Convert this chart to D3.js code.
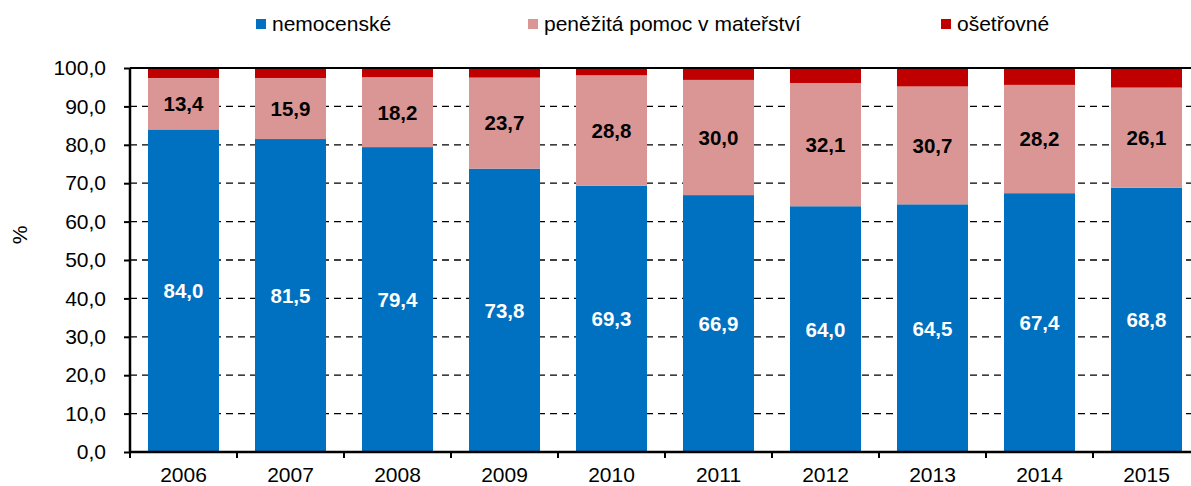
<!DOCTYPE html>
<meta charset="utf-8">
<style>
body { margin: 0; background: #fff; }
svg { font-family: "Liberation Sans", Arial, sans-serif; }
.tick text { font-size: 21px; fill: #000; }
.lbl { font-size: 20.5px; font-weight: bold; }
</style>
<body>
<script src="https://cdn.jsdelivr.net/npm/d3@7"></script>
<script>
// roky a podíly jednotlivých dávek (%)
var years = ["2006", "2007", "2008", "2009", "2010", "2011", "2012", "2013", "2014", "2015"];
var nemocenske = [84.0, 81.5, 79.4, 73.8, 69.3, 66.9, 64.0, 64.5, 67.4, 68.8];
var materstvi = [13.4, 15.9, 18.2, 23.7, 28.8, 30.0, 32.1, 30.7, 28.2, 26.1];
var osetrovne = [2.6, 2.6, 2.4, 2.5, 1.9, 3.1, 3.9, 4.8, 4.4, 5.1];
var seriesNames = ["nemocenské", "peněžitá pomoc v mateřství", "ošetřovné"];
var colors = ["#0070c0", "#da9694", "#c00000"];
var yTicks = [0, 10, 20, 30, 40, 50, 60, 70, 80, 90, 100];

var margin = {top: 68, left: 130},
    width = 1070,
    height = 384;

var table = years.map(function(y, i) {
  return {year: y, s0: nemocenske[i], s1: materstvi[i], s2: osetrovne[i]};
});

var stack = d3.stack().keys(["s0", "s1", "s2"])(table);

var svg = d3.select("body").append("svg")
    .attr("width", 1191)
    .attr("height", 486);

var g = svg.append("g")
    .attr("transform", "translate(" + margin.left + "," + margin.top + ")");

var x = d3.scaleBand().domain(years).range([0, width]).paddingInner(36 / 107).paddingOuter(18 / 107);
var y = d3.scaleLinear().domain([0, 100]).range([height, 0]);

// vodorovné mřížky
g.selectAll(".grid")
    .data(yTicks.filter(function(d) { return d > 0 && d < 100; }))
  .enter().append("line")
    .attr("x1", 0).attr("x2", width)
    .attr("y1", function(d) { return y(d); })
    .attr("y2", function(d) { return y(d); })
    .attr("stroke", "#000")
    .attr("stroke-width", 1.3)
    .attr("stroke-dasharray", "7,5");

// sloupce
var layer = g.selectAll(".layer")
    .data(stack)
  .enter().append("g")
    .attr("fill", function(d, i) { return colors[i]; });

layer.selectAll("rect")
    .data(function(d) { return d; })
  .enter().append("rect")
    .attr("x", function(d) { return x(d.data.year); })
    .attr("width", x.bandwidth())
    .attr("y", function(d) { return y(d[1]); })
    .attr("height", function(d) { return y(d[0]) - y(d[1]); });

// popisky hodnot
var fmt = function(v) { return d3.format(".1f")(v).replace(".", ","); };
[0, 1].forEach(function(k) {
  g.selectAll(".lbl" + k)
      .data(stack[k])
    .enter().append("text")
      .attr("class", "lbl")
      .attr("text-anchor", "middle")
      .attr("dy", "0.36em")
      .attr("fill", k === 0 ? "#fff" : "#000")
      .attr("x", function(d) { return x(d.data.year) + x.bandwidth() / 2; })
      .attr("y", function(d) { return y((d[0] + d[1]) / 2); })
      .text(function(d) { return fmt(d[1] - d[0]); });
});

// horní linka
g.append("line")
    .attr("x1", 0).attr("x2", width)
    .attr("y1", 0).attr("y2", 0)
    .attr("stroke", "#000").attr("stroke-width", 2);

// osy
var yAxis = g.append("g")
    .call(d3.axisLeft(y).tickValues(yTicks).tickSize(6).tickPadding(18).tickFormat(fmt));
yAxis.select(".domain").attr("stroke-width", 2.5).attr("d", "M0," + height + "V0");
yAxis.selectAll(".tick line").attr("stroke-width", 2);

var xAxis = g.append("g")
    .attr("transform", "translate(0," + height + ")")
    .call(d3.axisBottom(x).tickSize(0).tickPadding(15));
xAxis.select(".domain").attr("stroke-width", 2.5).attr("d", "M0,0H" + width);

// značky mezi kategoriemi
g.selectAll(".xt")
    .data(d3.range(years.length + 1))
  .enter().append("line")
    .attr("x1", function(i) { return i * width / years.length; })
    .attr("x2", function(i) { return i * width / years.length; })
    .attr("y1", height).attr("y2", height + 6)
    .attr("stroke", "#000").attr("stroke-width", 2);

// popisek osy y
svg.append("text")
    .attr("transform", "translate(27,235) rotate(-90)")
    .attr("text-anchor", "middle")
    .attr("font-size", 21)
    .text("%");

// legenda
var legendX = [256, 528, 941];
var legend = svg.selectAll(".legend")
    .data(seriesNames)
  .enter().append("g")
    .attr("transform", function(d, i) { return "translate(" + legendX[i] + ",19)"; });
legend.append("rect")
    .attr("width", 10).attr("height", 10)
    .attr("fill", function(d, i) { return colors[i]; });
legend.append("text")
    .attr("x", 16).attr("y", 12)
    .attr("font-size", 21)
    .text(function(d) { return d; });
</script>
